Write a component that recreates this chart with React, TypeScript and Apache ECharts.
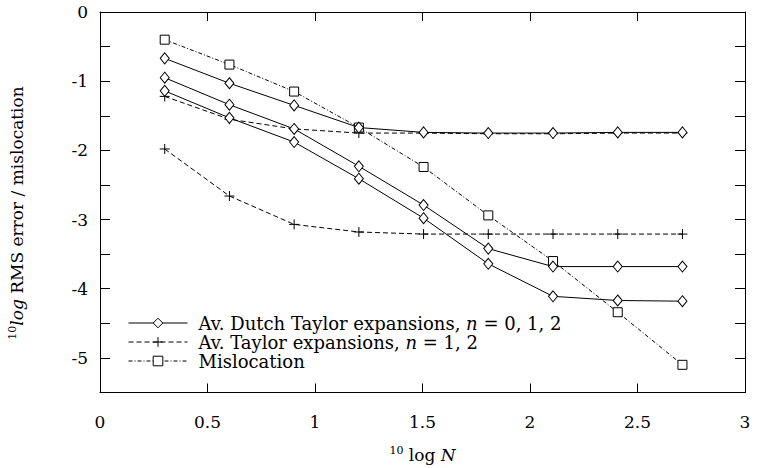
import React, { useEffect, useRef } from "react";
import * as echarts from "echarts";

const xValues = [0.301, 0.602, 0.903, 1.204, 1.505, 1.806, 2.107, 2.408, 2.709];

const dutch1 = [-0.67, -1.03, -1.35, -1.67, -1.74, -1.75, -1.75, -1.74, -1.74];
const dutch2 = [-0.95, -1.34, -1.69, -2.23, -2.79, -3.42, -3.68, -3.68, -3.68];
const dutch3 = [-1.14, -1.53, -1.88, -2.41, -2.98, -3.64, -4.11, -4.17, -4.18];

const taylor1 = [-1.22, -1.55, -1.69, -1.75, -1.75, -1.76, -1.76, -1.75, -1.75];
const taylor2 = [-1.98, -2.66, -3.07, -3.18, -3.21, -3.21, -3.21, -3.21, -3.21];

const misloc = [-0.4, -0.76, -1.15, -1.67, -2.24, -2.94, -3.6, -4.34, -5.1];

const xTicks = { min: 0, max: 3, interval: 0.5 };
const yTicks = { min: -5.5, max: 0, interval: 0.5 };

const FONT = "DejaVu Serif";
const FS = 17;
const LFS = 18;

const pair = (ys: number[]) => xValues.map((x, i) => [x, ys[i]]);

const PLUS = "path://M0,5L10,5M5,0L5,10";

export default function App() {
  const ref = useRef<HTMLDivElement>(null);
  useEffect(() => {
    if (!ref.current) return;
    const chart = echarts.init(ref.current, undefined, { renderer: "svg" });
    const dutchStyle = {
      type: "line" as const,
      name: "dutch",
      symbol: "diamond",
      symbolSize: [9, 11],
      itemStyle: { color: "#fff", borderColor: "#000", borderWidth: 1 },
      lineStyle: { color: "#000", width: 1, type: "solid" as const },
      z: 3,
    };
    const taylorStyle = {
      type: "line" as const,
      name: "taylor",
      symbol: PLUS,
      symbolSize: 10,
      itemStyle: { color: "none", borderColor: "#000", borderWidth: 1 },
      lineStyle: { color: "#000", width: 1, type: [5, 3] as any },
      z: 2,
    };
    const mislocStyle = {
      type: "line" as const,
      name: "misloc",
      symbol: "rect",
      symbolSize: 9,
      itemStyle: { color: "#fff", borderColor: "#000", borderWidth: 1 },
      lineStyle: { color: "#000", width: 1, type: [4, 2, 1, 2] as any },
      z: 2,
    };
    const txt = { fontFamily: FONT, fontSize: FS, color: "#000" };
    const rich = {
      s: { fontFamily: FONT, fontSize: 11, verticalAlign: "top", lineHeight: 20, color: "#000" },
      a: { fontFamily: FONT, fontSize: FS, lineHeight: 20, color: "#000" },
      i: { fontFamily: FONT, fontSize: FS, fontStyle: "italic", lineHeight: 20, color: "#000" },
      t: { fontFamily: FONT, fontSize: FS, color: "#000" },
    };
    const axisLineStyle = { lineStyle: { color: "#000", width: 1 } };
    const fmtNum = (v: number) => String(Math.round(v * 10) / 10);
    chart.setOption({
      animation: false,
      textStyle: { fontFamily: FONT },
      grid: { left: 100, top: 12, right: 16, bottom: 75 },
      graphic: [
        {
          type: "text",
          x: 17,
          y: 213,
          rotation: Math.PI / 2,
          style: {
            text: "{s|10}{i|log}{a| RMS error / mislocation}",
            rich,
            align: "center",
            verticalAlign: "middle",
            fill: "#000",
            font: `${FS}px ${FONT}`,
          },
        },
      ],
      xAxis: [
        {
          type: "value",
          ...xTicks,
          position: "bottom",
          axisLine: { show: true, onZero: false, ...axisLineStyle },
          axisTick: { show: true, inside: true, length: 9, lineStyle: { color: "#000" } },
          splitLine: { show: false },
          axisLabel: { ...txt, rich, margin: 21, formatter: (v: number) => `{t|${fmtNum(v)}}` },
          name: "{s|10}{a| log }{i|N}",
          nameLocation: "middle",
          nameGap: 52,
          nameTextStyle: { ...txt, rich },
        },
        {
          type: "value",
          ...xTicks,
          position: "top",
          axisLine: { show: true, onZero: false, ...axisLineStyle },
          axisTick: { show: true, inside: true, length: 9, lineStyle: { color: "#000" } },
          splitLine: { show: false },
          axisLabel: { show: false },
        },
      ],
      yAxis: [
        {
          type: "value",
          ...yTicks,
          position: "left",
          axisLine: { show: true, onZero: false, ...axisLineStyle },
          axisTick: { show: true, inside: true, length: 10, lineStyle: { color: "#000" } },
          splitLine: { show: false },
          axisLabel: {
            ...txt,
            rich,
            margin: 12,
            formatter: (v: number) =>
              Math.abs(v - Math.round(v)) < 1e-9 ? `{t|${String(Math.round(v))}}` : "",
          },
        },
        {
          type: "value",
          ...yTicks,
          position: "right",
          axisLine: { show: true, onZero: false, ...axisLineStyle },
          axisTick: { show: true, inside: true, length: 10, lineStyle: { color: "#000" } },
          splitLine: { show: false },
          axisLabel: { show: false },
        },
      ],
      legend: {
        data: ["dutch", "taylor", "misloc"],
        orient: "vertical",
        left: 123,
        top: 309,
        itemWidth: 59,
        itemHeight: 12,
        itemGap: 1,
        selectedMode: false,
        itemStyle: { borderWidth: 1 },
        lineStyle: { width: 1 },
        formatter: (name: string) => {
          if (name === "dutch") return "{a|Av. Dutch Taylor expansions, }{i|n}{a| = 0, 1, 2}";
          if (name === "taylor") return "{a|Av. Taylor expansions, }{i|n}{a| = 1, 2}";
          return "{a|Mislocation}";
        },
        textStyle: {
          fontFamily: FONT,
          fontSize: LFS,
          color: "#000",
          padding: [0, 0, 0, 6],
          rich: {
            a: { fontFamily: FONT, fontSize: LFS, lineHeight: 18, color: "#000" },
            i: { fontFamily: FONT, fontSize: LFS, lineHeight: 18, fontStyle: "italic", color: "#000" },
          },
        },
      },
      series: [
        { ...dutchStyle, data: pair(dutch1) },
        { ...dutchStyle, data: pair(dutch2) },
        { ...dutchStyle, data: pair(dutch3) },
        { ...taylorStyle, data: pair(taylor1) },
        { ...taylorStyle, data: pair(taylor2) },
        { ...mislocStyle, data: pair(misloc) },
      ],
    });
    return () => chart.dispose();
  }, []);
  return <div ref={ref} style={{ width: 761, height: 468, position: "absolute", left: 0, top: 0 }} />;
}
